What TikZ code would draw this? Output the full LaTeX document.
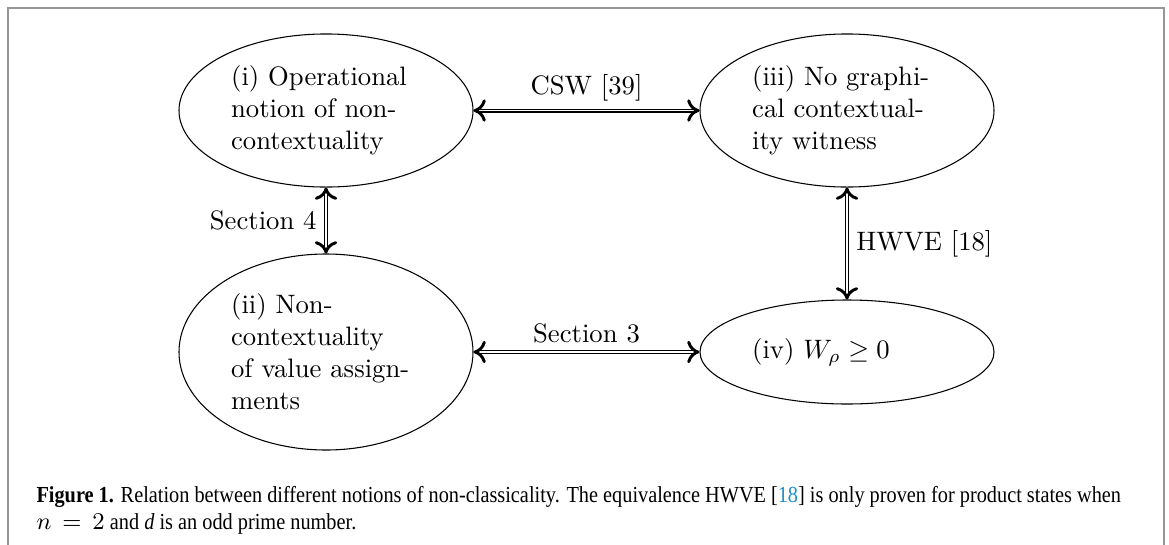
\documentclass[tikz,border=0pt]{standalone}
\usepackage{fontspec}
\usetikzlibrary{shapes.geometric,arrows.meta}
\newfontfamily\capfont[FakeStretch=0.885]{Liberation Serif}
\definecolor{framegray}{RGB}{150,150,150}
\definecolor{citeblue}{RGB}{35,140,200}
\begin{document}
\begin{tikzpicture}[x=0.375pt,y=-0.375pt,
  ell/.style={ellipse,draw,line width=0.4pt,inner sep=0pt,text width=2.5cm,align=left,minimum width=110.25pt},
  rel/.style={{Computer Modern Rightarrow[length=4.6pt,width=8.4pt,line width=1.1pt]}-{Computer Modern Rightarrow[length=4.6pt,width=8.4pt,line width=1.1pt]},double,line width=0.4pt,double distance=0.7pt},
  lbl/.style={font=\normalsize}]
\useasboundingbox (0,0) rectangle (1169,544);
\draw[framegray,line width=0.7pt] (8,560) -- (8,8) -- (1164,8) -- (1164,560);
\node[ell,minimum height=57.4pt] (i) at (326,110.5) {(i) Operational\\notion of non-\\contextuality};
\node[ell,minimum height=57.4pt] (iii) at (847,110.5) {(iii) No graphi-\\cal contextual-\\ity witness};
\node[ell,minimum height=73.5pt] (ii) at (326,352) {(ii) Non-\\contextuality\\of value assign-\\ments};
\node[ell,minimum height=39pt] (iv) at (847,352) {(iv) $W_\rho \geq 0$};
\draw[rel] (i) -- node[above,lbl] {CSW [39]} (iii);
\draw[rel] (ii) -- node[above,lbl] {Section 3} (iv);
\draw[rel] (i) -- node[left,lbl] {Section 4} (ii);
\draw[rel] (iii) -- node[right,lbl] {HWVE [18]} (iv);
\node[anchor=west,align=left,inner sep=0pt,font=\capfont\fontsize{8.6pt}{10.2pt}\selectfont] (cap) at (36,510)
 {\textbf{Figure 1.} Relation between different notions of non-classicality. The equivalence HWVE [{\color{citeblue}18}] is only proven for product states when\\
 $n\,=\,2$ and \textit{d} is an odd prime number.};
\end{tikzpicture}
\end{document}
